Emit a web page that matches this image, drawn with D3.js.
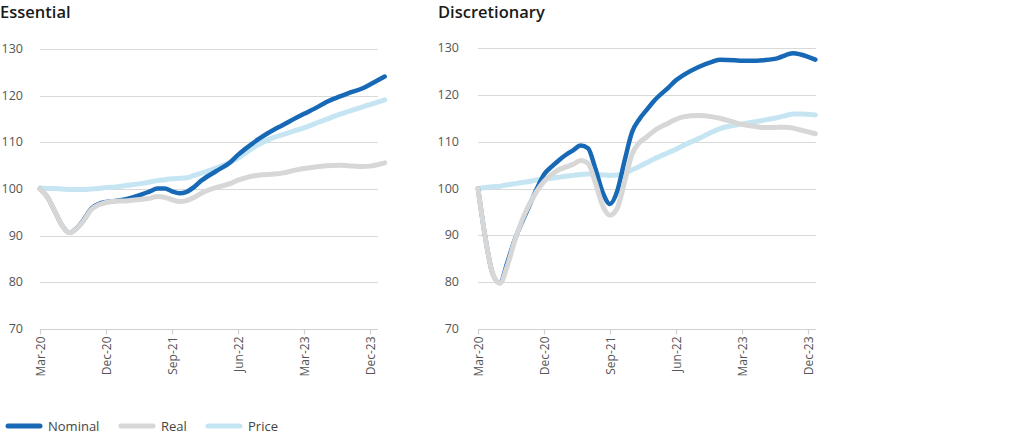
<!DOCTYPE html>
<html>
<head>
<meta charset="utf-8">
<script src="https://cdn.jsdelivr.net/npm/d3@7"></script>
<style>
  html, body { margin: 0; padding: 0; background: #ffffff; }
  svg { display: block; }
</style>
</head>
<body>
<svg id="chart" width="1024" height="446"></svg>
<script>
// ---------- DATA ----------
const seriesNames = ["Nominal", "Real", "Price"];
const tickMonths = [0, 9, 18, 27, 36, 45];
const tickLabels = ["Mar-20", "Dec-20", "Sep-21", "Jun-22", "Mar-23", "Dec-23"];
const yTicks = [70, 80, 90, 100, 110, 120, 130];

// Essential: month index from Mar-20
const essentialMonths = [0,1,2,3,4,5,6,7,8,9,10,12,14,15,16,17,18,19,20,21,22,24,26,27,28,30,32,33,35,36,38,39,41,42,44,45,47];
const essentialNominal = [100,98.3,95.3,92.2,90.6,91.6,93.5,95.8,96.8,97.2,97.4,97.9,98.9,99.5,100.1,100.1,99.5,99.1,99.4,100.4,101.8,103.8,105.8,107.3,108.6,110.9,112.8,113.6,115.3,116.1,117.7,118.6,119.9,120.5,121.6,122.4,124.1];
const essentialReal = [100,98.3,95.3,92.2,90.6,91.5,93.3,95.6,96.6,97.1,97.4,97.5,97.8,98,98.4,98.2,97.7,97.3,97.5,98.2,99.1,100.3,101.2,101.9,102.4,103,103.2,103.4,104.1,104.4,104.8,105,105.1,105,104.8,104.9,105.6];
const essentialPrice = [100.2,100.1,100.1,100,99.9,99.9,99.9,100,100.1,100.3,100.4,100.8,101.2,101.5,101.8,102,102.2,102.3,102.4,102.9,103.4,104.5,105.8,106.6,107.7,109.7,111.1,111.6,112.6,113.1,114.3,114.9,116.1,116.6,117.6,118.1,119.1];

// Discretionary: month index from Mar-20
const discMonths = [0,1,2,3,4,5,6,7,8,9,10,11,12,13,14,15,16,17,18,19,20,21,22,23,24,26,27,28,30,32,33,35,36,38,39,41,42,43,44,46];
const discNominal = [100,89.5,81.8,79.8,84.2,89,92.8,96.3,99.9,103,104.6,106,107.2,108.2,109.2,108.6,104.3,99.2,96.7,99.5,106,112,114.8,116.8,118.7,121.6,123.1,124.2,125.9,127.1,127.5,127.4,127.3,127.3,127.4,127.9,128.5,128.9,128.6,127.5];
const discReal = [100,89.5,81.8,79.8,83.5,88.8,93.2,96.6,99.4,101.5,102.9,104,104.6,105.2,106,105.4,101.3,96.3,94.3,95.8,101.5,107.3,109.8,111,112.3,114,114.8,115.3,115.6,115.3,115,114.1,113.7,113.2,113,113.1,113.1,112.9,112.5,111.7];
const discPrice = [100,100.2,100.4,100.5,100.8,101,101.3,101.5,101.8,102,102.2,102.4,102.6,102.8,103,103.1,103,102.9,102.8,102.9,103.3,104,104.7,105.5,106.3,107.7,108.4,109.2,110.6,112.1,112.8,113.5,113.8,114.3,114.6,115.2,115.6,115.9,115.9,115.7];

// ---------- STYLE ----------
const colors = { Nominal: "#1769b6", Real: "#d7d7d7", Price: "#c6e5f3" };
const widths = { Nominal: 4.5, Real: 5, Price: 5 };
const FONT = "'Open Sans', sans-serif";

const svg = d3.select("#chart");

function drawPanel(cfg) {
  const g = svg.append("g");
  const x = d3.scaleLinear().domain([0, 45]).range([cfg.x0, cfg.x1]);
  const y = d3.scaleLinear().domain([70, 130]).range([cfg.yBottom, cfg.yTop]);

  // title
  g.append("text")
    .attr("x", cfg.titleX).attr("y", 18)
    .attr("font-family", FONT).attr("font-size", 16.5).attr("font-weight", 600)
    .attr("fill", "#1a1a1a")
    .text(cfg.title);

  // gridlines
  g.append("g").selectAll("line").data(yTicks.filter(t => t > 70)).join("line")
    .attr("x1", cfg.x0).attr("x2", cfg.gridEnd)
    .attr("y1", d => Math.round(y(d)) + 0.5).attr("y2", d => Math.round(y(d)) + 0.5)
    .attr("stroke", "#d9d9d9").attr("stroke-width", 1.2);

  // y labels
  g.append("g").selectAll("text").data(yTicks).join("text")
    .attr("x", cfg.labelRight).attr("y", d => y(d) + 4)
    .attr("text-anchor", "end")
    .attr("font-family", FONT).attr("font-size", 12.5).attr("fill", "#555")
    .text(d => d);

  // x axis
  const xAxis = d3.axisBottom(x).tickValues(tickMonths)
    .tickFormat((d, i) => tickLabels[i]).tickSize(5).tickSizeOuter(0);
  const ax = g.append("g").attr("transform", `translate(0,${Math.round(cfg.yBottom) + 0.5})`).call(xAxis);
  ax.select(".domain").attr("d", `M${cfg.x0},0H${cfg.gridEnd}`).attr("stroke", "#d0d0d0").attr("stroke-width", 1.2);
  ax.selectAll(".tick line").attr("stroke", "#d0d0d0").attr("stroke-width", 1.2);
  ax.selectAll(".tick text")
    .attr("font-family", FONT).attr("font-size", 12).attr("fill", "#555")
    .attr("transform", "rotate(-90)")
    .attr("text-anchor", "end")
    .attr("x", -7).attr("y", 0).attr("dy", "0.35em");

  // lines
  const line = d3.line()
    .x(d => x(d[0])).y(d => y(d[1]))
    .curve(d3.curveMonotoneX);
  const order = ["Price", "Nominal", "Real"];
  order.forEach(name => {
    const vals = cfg.series[name];
    const pts = cfg.months.map((m, i) => [m, vals[i]]);
    g.append("path").datum(pts)
      .attr("d", line)
      .attr("fill", "none")
      .attr("stroke", colors[name])
      .attr("stroke-width", widths[name])
      .attr("stroke-linecap", "round")
      .attr("stroke-linejoin", "round");
  });
}

drawPanel({
  title: "Essential", titleX: 0,
  x0: 40, x1: 370, gridEnd: 378, yTop: 49, yBottom: 329, labelRight: 23,
  months: essentialMonths,
  series: { Nominal: essentialNominal, Real: essentialReal, Price: essentialPrice }
});

drawPanel({
  title: "Discretionary", titleX: 438,
  x0: 478, x1: 808, gridEnd: 816, yTop: 48, yBottom: 329, labelRight: 459,
  months: discMonths,
  series: { Nominal: discNominal, Real: discReal, Price: discPrice }
});

// legend
const legendX = [6, 119, 206];
const legend = svg.append("g");
seriesNames.forEach((name, i) => {
  legend.append("line")
    .attr("x1", legendX[i] + 2).attr("x2", legendX[i] + 34)
    .attr("y1", 426).attr("y2", 426)
    .attr("stroke", colors[name]).attr("stroke-width", 5)
    .attr("stroke-linecap", "round");
  legend.append("text")
    .attr("x", legendX[i] + 42).attr("y", 430.5)
    .attr("font-family", FONT).attr("font-size", 13).attr("fill", "#444")
    .text(name);
});
</script>
</body>
</html>
